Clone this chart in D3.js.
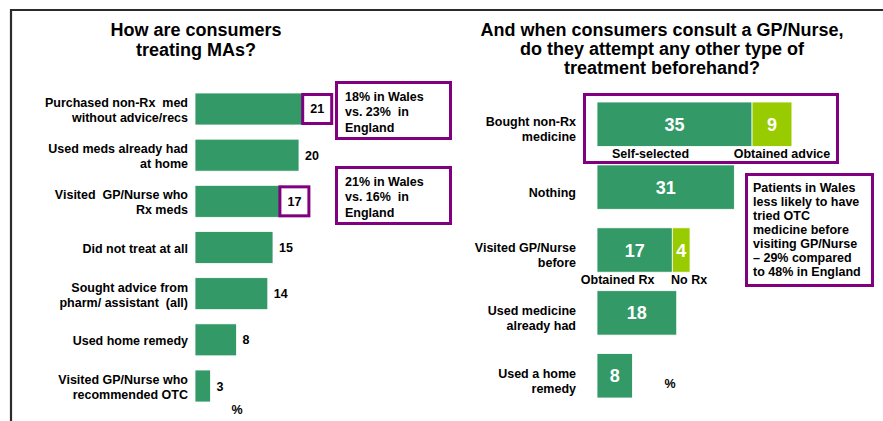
<!DOCTYPE html>
<html><head><meta charset="utf-8">
<script src="https://cdn.jsdelivr.net/npm/d3@7"></script>
<style>
body{margin:0;background:#fff;}
svg text{font-family:"Liberation Sans",Arial,Helvetica,sans-serif;font-weight:bold;white-space:pre;fill:#000;}
</style></head><body>
<svg id="c" width="883" height="421"></svg>
<script>
// ---- data ----
const leftTitle = ["How are consumers", "treating MAs?"];
const leftCategories = [
  ["Purchased non-Rx  med", "without advice/recs"],
  ["Used meds already had", "at home"],
  ["Visited  GP/Nurse who", "Rx meds"],
  ["Did not treat at all"],
  ["Sought advice from", "pharm/ assistant  (all)"],
  ["Used home remedy"],
  ["Visited GP/Nurse who", "recommended OTC"]
];
const leftValues = [21, 20, 17, 15, 14, 8, 3];
const leftBoxed = [0, 2];
const leftNotes = [
  ["18% in Wales", "vs. 23%  in", "England"],
  ["21% in Wales", "vs. 16%  in", "England"]
];
const rightTitle = ["And when consumers consult a GP/Nurse,", "do they attempt any other type of", "treatment beforehand?"];
const rightCategories = [
  ["Bought non-Rx", "medicine"],
  ["Nothing"],
  ["Visited GP/Nurse", "before"],
  ["Used medicine", "already had"],
  ["Used a home", "remedy"]
];
const rightPrimary = [35, 31, 17, 18, 8];
const rightSecondary = [9, 0, 4, 0, 0];
const rightSegmentLabels = [["Self-selected", "Obtained advice"], null, ["Obtained Rx", "No Rx"], null, null];
const rightNote = ["Patients in Wales", "less likely to have", "tried OTC", "medicine before", "visiting GP/Nurse", "\u2013 29% compared", "to 48% in England"];
const unitLabel = "%";

// ---- style ----
const GREEN = "#339966", LIME = "#99cc00", PURPLE = "#800080";
const svg = d3.select("#c");

// frame
svg.append("path").attr("d", "M11,421 V10 H883").attr("fill", "none")
  .attr("stroke", "#2b2b2b").attr("stroke-width", 2.2);

// ---- left chart ----
const xL = d3.scaleLinear().domain([0, 25]).range([195, 325]);
const yL = d3.scaleBand().domain(d3.range(leftValues.length)).range([93, 402]).paddingInner(0.307);

svg.append("g").selectAll("text").data(leftTitle).join("text")
  .attr("x", 196).attr("y", (d, i) => 36 + i * 20).attr("text-anchor", "middle")
  .attr("font-size", 18).text(d => d);

const gl = svg.append("g");
gl.selectAll("rect").data(leftValues).join("rect")
  .attr("x", xL(0)).attr("y", (d, i) => yL(i))
  .attr("width", d => xL(d) - xL(0)).attr("height", yL.bandwidth())
  .attr("fill", GREEN).attr("stroke", "#fff").attr("stroke-width", 0.8);

leftCategories.forEach((lines, i) => {
  const cy = yL(i) + yL.bandwidth() / 2 + 1;
  const n = lines.length;
  lines.forEach((t, j) => {
    gl.append("text").attr("x", 188).attr("y", cy + (j - (n - 1) / 2) * 15 + 4.5)
      .attr("text-anchor", "end").attr("font-size", 12.5).text(t);
  });
});

leftValues.forEach((v, i) => {
  const cy = yL(i) + yL.bandwidth() / 2;
  if (leftBoxed.includes(i)) {
    const bx = xL(v) - 3 - (i === 2 ? 2 : 0);
    gl.append("rect").attr("x", bx + 1.5).attr("y", yL(i) + 1.5)
      .attr("width", 29).attr("height", yL.bandwidth() - 3)
      .attr("fill", "#fff").attr("stroke", PURPLE).attr("stroke-width", 3);
    gl.append("text").attr("x", bx + 16).attr("y", cy + 4.5).attr("text-anchor", "middle")
      .attr("font-size", 12.5).text(v);
  } else {
    gl.append("text").attr("x", xL(v) + 6).attr("y", cy + 4.5)
      .attr("font-size", 12.5).text(v);
  }
});

const noteBoxes = [{x: 336.5, y: 82.5, w: 114, h: 56}, {x: 336.5, y: 167.5, w: 114, h: 56}];
leftNotes.forEach((lines, k) => {
  const b = noteBoxes[k];
  gl.append("rect").attr("x", b.x).attr("y", b.y).attr("width", b.w).attr("height", b.h)
    .attr("fill", "#fff").attr("stroke", PURPLE).attr("stroke-width", 3);
  lines.forEach((t, j) => {
    gl.append("text").attr("x", 345).attr("y", b.y + 18 + j * 15.5)
      .attr("font-size", 12.5).text(t);
  });
});
gl.append("text").attr("x", 237).attr("y", 414).attr("text-anchor", "middle")
  .attr("font-size", 12.5).text(unitLabel);

// ---- right chart ----
const xR = d3.scaleLinear().domain([0, 50]).range([597, 818.5]);
const yR = d3.scaleBand().domain(d3.range(rightPrimary.length)).range([102, 398]).paddingInner(0.294);

svg.append("g").selectAll("text").data(rightTitle).join("text")
  .attr("x", 662).attr("y", (d, i) => 36 + i * 19.2).attr("text-anchor", "middle")
  .attr("font-size", 18).text(d => d);

const gr = svg.append("g");
// highlight box around first row
gr.append("rect").attr("x", 584.5).attr("y", 94.5).attr("width", 253).attr("height", 68)
  .attr("fill", "none").attr("stroke", PURPLE).attr("stroke-width", 3);

gr.selectAll("rect.p").data(rightPrimary).join("rect").attr("class", "p")
  .attr("x", xR(0)).attr("y", (d, i) => yR(i))
  .attr("width", d => xR(d) - xR(0)).attr("height", yR.bandwidth())
  .attr("fill", GREEN).attr("stroke", "#fff").attr("stroke-width", 0.8);
gr.selectAll("rect.s").data(rightSecondary.map((s, i) => ({s, p: rightPrimary[i], i})).filter(d => d.s > 0))
  .join("rect").attr("class", "s")
  .attr("x", d => xR(d.p)).attr("y", d => yR(d.i))
  .attr("width", d => xR(d.p + d.s) - xR(d.p)).attr("height", yR.bandwidth())
  .attr("fill", LIME).attr("stroke", "#fff").attr("stroke-width", 0.8);

rightPrimary.forEach((p, i) => {
  const cy = yR(i) + yR.bandwidth() / 2;
  gr.append("text").attr("x", (xR(0) + xR(p)) / 2).attr("y", cy + 6.5)
    .attr("text-anchor", "middle").attr("font-size", 18).style("fill", "#fff").text(p);
  const s = rightSecondary[i];
  if (s > 0) {
    gr.append("text").attr("x", (xR(p) + xR(p + s)) / 2).attr("y", cy + 6.5)
      .attr("text-anchor", "middle").attr("font-size", 18).style("fill", "#fff").text(s);
  }
  const segs = rightSegmentLabels[i];
  if (segs) {
    const bottom = yR(i) + yR.bandwidth();
    const dx = i === 0 ? [-24, 10] : [-17, 8];
    gr.append("text").attr("x", (xR(0) + xR(p)) / 2 + dx[0]).attr("y", bottom + 12)
      .attr("text-anchor", "middle").attr("font-size", 12.5).text(segs[0]);
    gr.append("text").attr("x", (xR(p) + xR(p + s)) / 2 + dx[1]).attr("y", bottom + 12)
      .attr("text-anchor", "middle").attr("font-size", 12.5).text(segs[1]);
  }
  const lines = rightCategories[i];
  const n = lines.length;
  lines.forEach((t, j) => {
    gr.append("text").attr("x", 576).attr("y", cy + 5 + (j - (n - 1) / 2) * 15 + 4.5)
      .attr("text-anchor", "end").attr("font-size", 12.5).text(t);
  });
});

gr.append("rect").attr("x", 746.5).attr("y", 174.5).attr("width", 126).attr("height", 111)
  .attr("fill", "#fff").attr("stroke", PURPLE).attr("stroke-width", 3);
rightNote.forEach((t, j) => {
  gr.append("text").attr("x", 753).attr("y", 192 + j * 14).attr("font-size", 12.5).text(t);
});
gr.append("text").attr("x", 670).attr("y", 388).attr("text-anchor", "middle")
  .attr("font-size", 12.5).text(unitLabel);
</script>
</body></html>
